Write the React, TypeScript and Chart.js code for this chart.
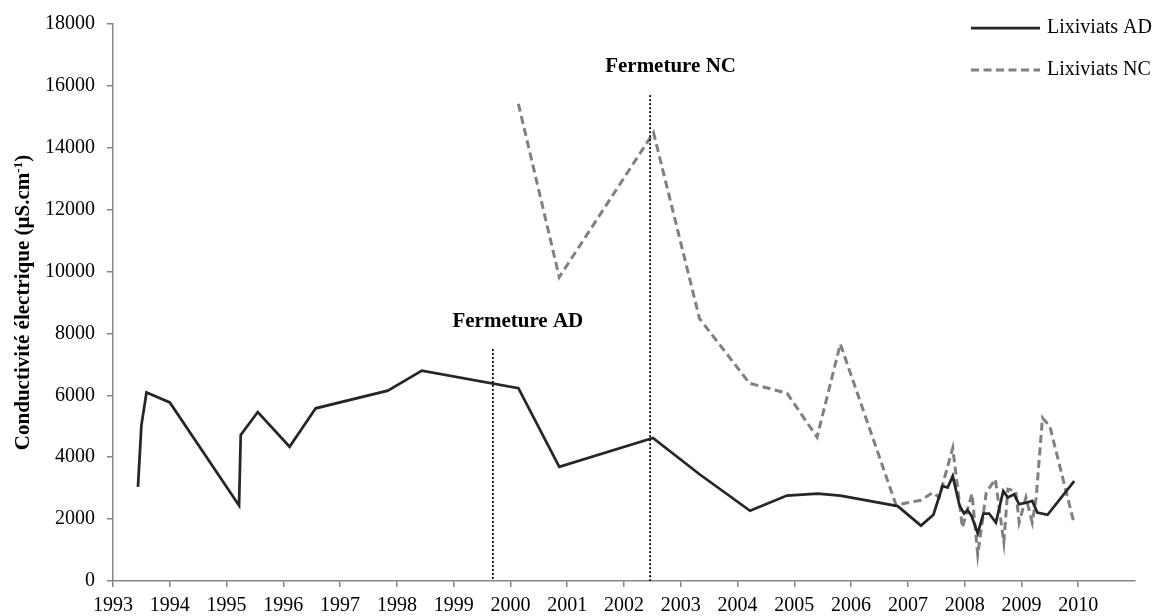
import React, { useEffect, useRef } from "react";
import { Chart, registerables } from "chart.js";

Chart.register(...registerables);

// ---- Data ----
const adYears = [
  1993.44, 1993.5, 1993.59, 1994.0, 1995.22, 1995.25, 1995.55, 1996.11, 1996.57, 1997.84,
  1998.44, 2000.14, 2000.86, 2002.51, 2003.33, 2004.22, 2004.87, 2005.41, 2005.81, 2006.82,
  2007.23, 2007.45, 2007.61, 2007.7, 2007.79, 2007.91, 2007.99, 2008.05, 2008.12, 2008.23,
  2008.33, 2008.43, 2008.55, 2008.68, 2008.76, 2008.87, 2008.96, 2009.08, 2009.19, 2009.28,
  2009.46, 2009.93,
];
const adValues = [
  3040, 5030, 6090, 5770, 2440, 4720, 5460, 4340, 5580, 6150,
  6800, 6230, 3690, 4620, 3450, 2270, 2760, 2820, 2760, 2420,
  1790, 2140, 3070, 3020, 3390, 2430, 2180, 2290, 2110, 1540,
  2180, 2180, 1890, 2910, 2700, 2800, 2480, 2530, 2590, 2210,
  2140, 3230,
];

const ncYears = [
  2000.14, 2000.86, 2002.52, 2003.33, 2004.21, 2004.87, 2005.4, 2005.81, 2006.79, 2007.23,
  2007.44, 2007.55, 2007.79, 2007.96, 2008.13, 2008.23, 2008.38, 2008.54, 2008.69, 2008.76,
  2008.9, 2008.96, 2009.08, 2009.19, 2009.26, 2009.37, 2009.5, 2009.93,
];
const ncValues = [
  15420, 9820, 14490, 8480, 6390, 6070, 4650, 7660, 2460, 2610,
  2860, 2700, 4300, 1730, 2820, 850, 2860, 3290, 1250, 2970,
  2900, 1890, 2700, 1890, 2700, 5270, 5000, 1840,
];

const seriesNames = ["Lixiviats AD", "Lixiviats NC"];
const xTickYears = [
  1993, 1994, 1995, 1996, 1997, 1998, 1999, 2000, 2001, 2002, 2003, 2004, 2005, 2006, 2007,
  2008, 2009, 2010,
];
const yTickValues = [0, 2000, 4000, 6000, 8000, 10000, 12000, 14000, 16000, 18000];

const closureNames = ["Fermeture AD", "Fermeture NC"];
const closureYears = [1999.69, 2002.46];
const closureTops = [7500, 15700];
const closureLabelYears = [2000.13, 2002.82];
const closureLabelValues = [8380, 16640];

const axisTitleMain = "Conductivité électrique (µS.cm";
const axisTitleSup = "-1";
const axisTitleEnd = ")";

// ---- Styles ----
const SERIF = '"Liberation Serif", "Times New Roman", serif';
const AD_COLOR = "#262626";
const NC_COLOR = "#808080";
const AXIS_COLOR = "#868686";
const NC_DASH = [8, 4.5];

export default function App() {
  const canvasRef = useRef<HTMLCanvasElement | null>(null);

  useEffect(() => {
    const canvas = canvasRef.current;
    if (!canvas) return;

    const overlay = {
      id: "overlay",
      afterDatasetsDraw(chart: any) {
        const { ctx, chartArea, scales } = chart;
        closureYears.forEach((yr, i) => {
          const x = scales.x.getPixelForValue(yr);
          const yTop = scales.y.getPixelForValue(closureTops[i]);
          ctx.save();
          ctx.strokeStyle = "#000";
          ctx.lineWidth = 1.75;
          ctx.setLineDash([2, 2]);
          ctx.beginPath();
          ctx.moveTo(x, yTop);
          ctx.lineTo(x, chartArea.bottom);
          ctx.stroke();
          ctx.restore();

          ctx.save();
          ctx.fillStyle = "#000";
          ctx.font = `bold 21px ${SERIF}`;
          ctx.textAlign = "center";
          ctx.textBaseline = "middle";
          ctx.fillText(
            closureNames[i],
            scales.x.getPixelForValue(closureLabelYears[i]),
            scales.y.getPixelForValue(closureLabelValues[i])
          );
          ctx.restore();
        });
      },
      afterDraw(chart: any) {
        const { ctx, chartArea } = chart;
        // Legend
        const lx0 = chartArea.right - 164;
        const lx1 = chartArea.right - 95;
        const tx = chartArea.right - 88;
        const rows = [
          { y: 28, color: AD_COLOR, dash: [] as number[], width: 2.75 },
          { y: 70, color: NC_COLOR, dash: NC_DASH, width: 3 },
        ];
        rows.forEach((r, i) => {
          ctx.save();
          ctx.strokeStyle = r.color;
          ctx.lineWidth = r.width;
          ctx.setLineDash(r.dash);
          ctx.beginPath();
          ctx.moveTo(lx0, r.y);
          ctx.lineTo(lx1, r.y);
          ctx.stroke();
          ctx.restore();
          ctx.save();
          ctx.fillStyle = "#000";
          ctx.font = `20px ${SERIF}`;
          ctx.textAlign = "left";
          ctx.textBaseline = "middle";
          ctx.fillText(seriesNames[i], tx, r.y);
          ctx.restore();
        });

        // Y axis title with superscript
        ctx.save();
        const cy = (chartArea.top + chartArea.bottom) / 2;
        ctx.translate(29, cy);
        ctx.rotate(-Math.PI / 2);
        ctx.fillStyle = "#000";
        ctx.textBaseline = "alphabetic";
        ctx.textAlign = "left";
        const mainFont = `bold 21px ${SERIF}`;
        const supFont = `bold 13px ${SERIF}`;
        ctx.font = mainFont;
        const w1 = ctx.measureText(axisTitleMain).width;
        const w3 = ctx.measureText(axisTitleEnd).width;
        ctx.font = supFont;
        const w2 = ctx.measureText(axisTitleSup).width;
        const total = w1 + w2 + w3;
        let x = -total / 2;
        ctx.font = mainFont;
        ctx.fillText(axisTitleMain, x, 0);
        x += w1;
        ctx.font = supFont;
        ctx.fillText(axisTitleSup, x, -7);
        x += w2;
        ctx.font = mainFont;
        ctx.fillText(axisTitleEnd, x, 0);
        ctx.restore();
      },
    };

    const chart = new Chart(canvas, {
      type: "line",
      data: {
        datasets: [
          {
            label: seriesNames[0],
            data: adYears.map((x, i) => ({ x, y: adValues[i] })),
            borderColor: AD_COLOR,
            backgroundColor: AD_COLOR,
            borderWidth: 2.75,
            pointRadius: 0,
            tension: 0,
            fill: false,
          },
          {
            label: seriesNames[1],
            data: ncYears.map((x, i) => ({ x, y: ncValues[i] })),
            borderColor: NC_COLOR,
            backgroundColor: NC_COLOR,
            borderWidth: 3,
            borderDash: NC_DASH,
            pointRadius: 0,
            tension: 0,
            fill: false,
          },
        ],
      },
      options: {
        responsive: false,
        animation: false,
        devicePixelRatio: 1,
        layout: { padding: { top: 21, right: 28, left: 0, bottom: 0 } },
        plugins: {
          legend: { display: false },
          tooltip: { enabled: false },
          title: { display: false },
        },
        scales: {
          x: {
            type: "linear",
            min: 1993,
            max: 2011,
            afterBuildTicks: (scale: any) => {
              scale.ticks = xTickYears.map((v) => ({ value: v }));
            },
            afterFit: (scale: any) => {
              scale.height = 35;
            },
            ticks: {
              autoSkip: false,
              maxRotation: 0,
              minRotation: 0,
              padding: 7,
              color: "#000",
              font: { family: SERIF, size: 20 },
              callback: (v: any) => String(v),
            },
            grid: {
              display: true,
              drawOnChartArea: false,
              drawTicks: true,
              tickLength: 6,
              color: AXIS_COLOR,
              lineWidth: 1.5,
            },
            border: { display: true, color: AXIS_COLOR, width: 1.5 },
          },
          y: {
            type: "linear",
            min: 0,
            max: 18000,
            afterBuildTicks: (scale: any) => {
              scale.ticks = yTickValues.map((v) => ({ value: v }));
            },
            afterFit: (scale: any) => {
              scale.width = 113;
            },
            ticks: {
              padding: 12,
              color: "#000",
              font: { family: SERIF, size: 20 },
              callback: (v: any) => String(v),
            },
            grid: {
              display: true,
              drawOnChartArea: false,
              drawTicks: true,
              tickLength: 6,
              color: AXIS_COLOR,
              lineWidth: 1.5,
            },
            border: { display: true, color: AXIS_COLOR, width: 1.5 },
          },
        },
      },
      plugins: [overlay],
    });

    return () => {
      chart.destroy();
    };
  }, []);

  return (
    <div style={{ position: "absolute", left: 0, top: 0, width: 1163, height: 616, background: "#fff" }}>
      <canvas ref={canvasRef} width={1163} height={616} style={{ display: "block" }} />
    </div>
  );
}
